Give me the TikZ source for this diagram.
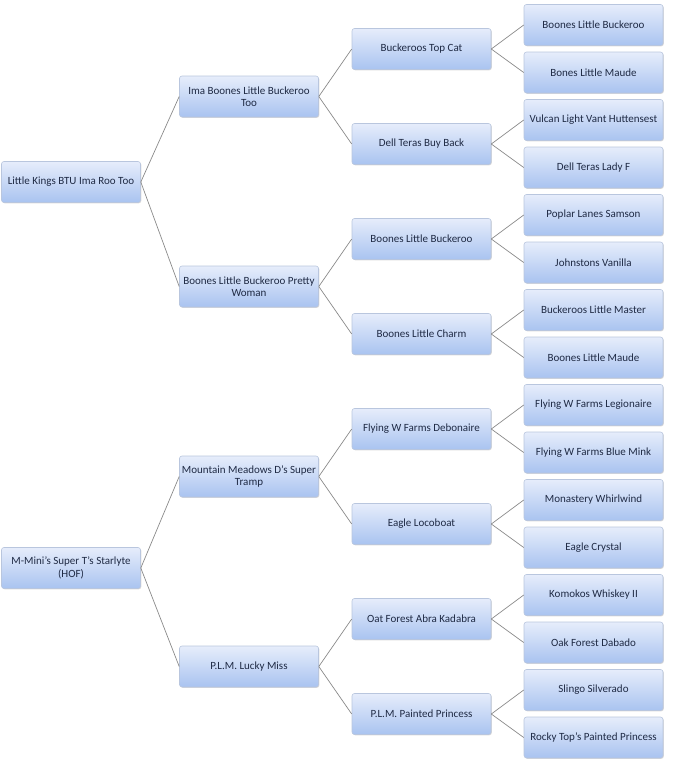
\documentclass[tikz,border=0pt]{standalone}
\usepackage{fontspec}
\setmainfont{Carlito}
\usepackage{tikz}
\usetikzlibrary{shadows}

\definecolor{boxtop}{HTML}{E6EDFB}
\definecolor{boxbot}{HTML}{A9C3F0}
\definecolor{boxline}{HTML}{B9C6DE}
\definecolor{boxtext}{HTML}{1F2A44}
\definecolor{linkgray}{HTML}{8A8A8A}

\tikzset{
  horse/.style={rectangle, rounded corners=2.5pt, draw=boxline, line width=0.6pt,
    top color=boxtop, bottom color=boxbot, text=boxtext,
    minimum width=139pt, minimum height=41pt, inner sep=2pt,
    align=center, font=\fontsize{11}{12.5}\selectfont,
    drop shadow={shadow xshift=0.8pt, shadow yshift=-0.8pt, fill=black, opacity=0.15}},
  link/.style={linkgray, line width=0.7pt}
}

\begin{document}
\begin{tikzpicture}[x=1pt, y=-1pt]

\useasboundingbox (0,0) rectangle (681,777);

%-- sires and dams
\node[horse] (g1) at (71,182) {Little Kings BTU Ima Roo Too};
\node[horse] (g2) at (71,568) {M-Mini’s Super T’s Starlyte\\(HOF)};

%-- parents
\node[horse] (p1) at (249, 96.5) {Ima Boones Little Buckeroo\\Too};
\node[horse] (p2) at (249,286.5) {Boones Little Buckeroo Pretty\\Woman};
\node[horse] (p3) at (249,476.5) {Mountain Meadows D’s Super\\Tramp};
\node[horse] (p4) at (249,666.5) {P.L.M. Lucky Miss};

%-- grandparents
\foreach \i/\t in {1/Buckeroos Top Cat, 2/Dell Teras Buy Back,
                   3/Boones Little Buckeroo, 4/Boones Little Charm,
                   5/Flying W Farms Debonaire, 6/Eagle Locoboat,
                   7/Oat Forest Abra Kadabra, 8/P.L.M. Painted Princess}
  \node[horse] (gp\i) at (421.5,{49+95*(\i-1)}) {\t};

%-- great-grandparents
\foreach \i/\t in {1/Boones Little Buckeroo, 2/Bones Little Maude,
                   3/Vulcan Light Vant Huttensest, 4/Dell Teras Lady F,
                   5/Poplar Lanes Samson, 6/Johnstons Vanilla,
                   7/Buckeroos Little Master, 8/Boones Little Maude,
                   9/Flying W Farms Legionaire, 10/Flying W Farms Blue Mink,
                   11/Monastery Whirlwind, 12/Eagle Crystal,
                   13/Komokos Whiskey II, 14/Oak Forest Dabado,
                   15/Slingo Silverado, 16/Rocky Top’s Painted Princess}
  \node[horse] (ggp\i) at (593.5,{25+47.5*(\i-1)}) {\t};

%-- connectors
\foreach \a/\b in {g1/p1, g1/p2, g2/p3, g2/p4}
  \draw[link] (\a.east) -- (\b.west);
\foreach \a/\b in {p1/gp1, p1/gp2, p2/gp3, p2/gp4, p3/gp5, p3/gp6, p4/gp7, p4/gp8}
  \draw[link] (\a.east) -- (\b.west);
\foreach \k in {1,...,8}
  \foreach \j in {0,1}
    \pgfmathtruncatemacro{\c}{2*\k-1+\j}
    \draw[link] (gp\k.east) -- (ggp\c.west);

\end{tikzpicture}
\end{document}
